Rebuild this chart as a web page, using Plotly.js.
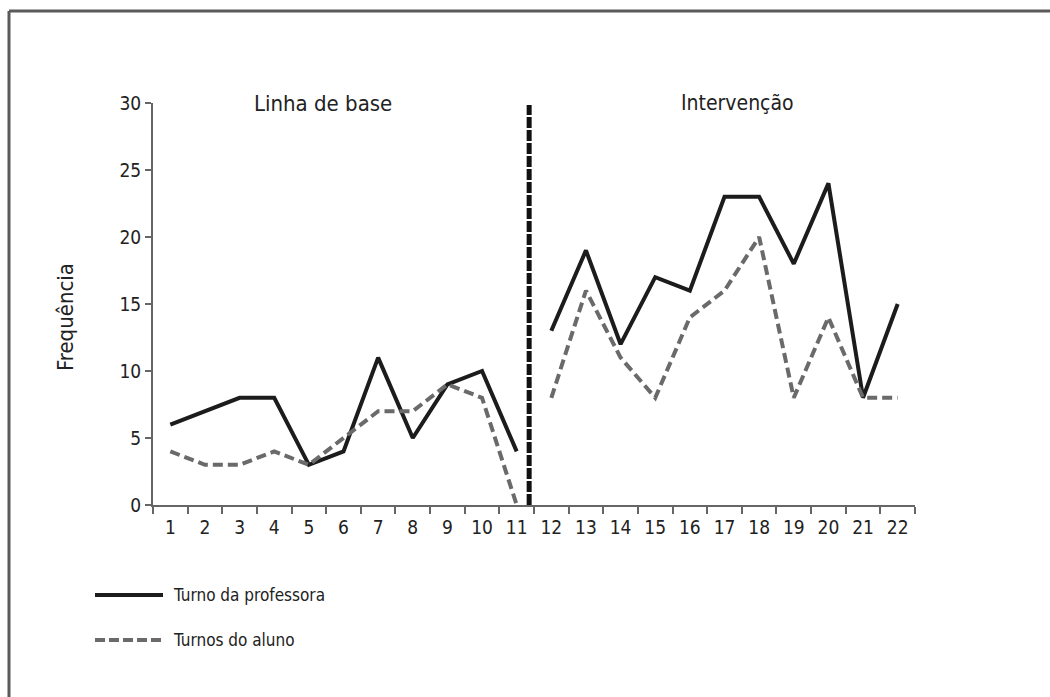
<!DOCTYPE html>
<html>
<head>
<meta charset="utf-8">
<script src="https://cdn.plot.ly/plotly-3.0.1.min.js"></script>
<style>
  html, body { margin: 0; padding: 0; background: #ffffff; }
  #chart { width: 1050px; height: 697px; }
</style>
</head>
<body>
<div id="chart"></div>
<script>
// ---- data ----
const sessions = ["1","2","3","4","5","6","7","8","9","10","11",
                  "12","13","14","15","16","17","18","19","20","21","22"];
const baselineSessions = sessions.slice(0, 11);
const interventionSessions = sessions.slice(11);

const teacherBaseline = [6, 7, 8, 8, 3, 4, 11, 5, 9, 10, 4];
const teacherIntervention = [13, 19, 12, 17, 16, 23, 23, 18, 24, 8, 15];
const studentBaseline = [4, 3, 3, 4, 3, 5, 7, 7, 9, 8, 0];
const studentIntervention = [8, 16, 11, 8, 14, 16, 20, 8, 14, 8, 8];

const yTicks = [0, 5, 10, 15, 20, 25, 30];
const seriesNames = ["Turno da professora", "Turnos do aluno"];
const phaseLabels = ["Linha de base", "Intervenção"];
const yTitle = "Frequência";
const phaseChange = 10.36;   // between session 11 and 12 (category index)

const FONT = '"Liberation Sans Narrow", "Arial Narrow", "DejaVu Sans Condensed", "Liberation Sans", Arial, sans-serif';
const teacherStyle = {color: '#1c1c1c', width: 4};
const studentStyle = {color: '#6a6a6a', width: 4, dash: '10px,5px'};

const traces = [
  {x: baselineSessions, y: teacherBaseline, type: 'scatter', mode: 'lines',
   name: seriesNames[0], line: teacherStyle, showlegend: false, hoverinfo: 'x+y'},
  {x: interventionSessions, y: teacherIntervention, type: 'scatter', mode: 'lines',
   name: seriesNames[0], line: teacherStyle, showlegend: false, hoverinfo: 'x+y'},
  {x: baselineSessions, y: studentBaseline, type: 'scatter', mode: 'lines',
   name: seriesNames[1], line: studentStyle, showlegend: false, hoverinfo: 'x+y'},
  {x: interventionSessions, y: studentIntervention, type: 'scatter', mode: 'lines',
   name: seriesNames[1], line: studentStyle, showlegend: false, hoverinfo: 'x+y'}
];

// plot area: x 153..915, y 103..505 (pixels)
const L = 153, R = 915, T = 103, B = 505;
const W = R - L, H = B - T;
const px = v => (v - L) / W;
const py = v => (B - v) / H;
const frameColor = '#5a5a5a';

const layout = {
  width: 1050, height: 697,
  margin: {l: L, r: 1050 - R, t: T, b: 697 - B, pad: 0},
  paper_bgcolor: '#ffffff', plot_bgcolor: '#ffffff',
  font: {family: FONT, size: 19, color: '#222222'},
  showlegend: false,
  xaxis: {
    type: 'category', categoryorder: 'array', categoryarray: sessions,
    range: [-0.5, sessions.length - 0.5], fixedrange: true,
    tickson: 'boundaries', ticks: 'outside', ticklen: 7, tickwidth: 2, tickcolor: '#666666',
    showline: true, linecolor: '#666666', linewidth: 2,
    showgrid: false, zeroline: false, ticklabelstandoff: 4,
    tickfont: {family: FONT, size: 19, color: '#222222'}
  },
  yaxis: {
    range: [0, 30], fixedrange: true,
    tickmode: 'array', tickvals: yTicks, ticktext: yTicks.map(String),
    ticks: 'outside', ticklen: 6, tickwidth: 2, tickcolor: '#666666',
    showline: true, linecolor: '#666666', linewidth: 2,
    showgrid: false, zeroline: false,
    tickfont: {family: FONT, size: 19, color: '#222222'}
  },
  shapes: [
    // phase change line
    {type: 'line', xref: 'x', yref: 'y', x0: phaseChange, x1: phaseChange, y0: 0, y1: 29.85,
     line: {color: '#111111', width: 5, dash: '11px,2px'}},
    // outer frame (top and left)
    {type: 'line', xref: 'paper', yref: 'paper', x0: px(9), x1: px(1052), y0: py(11), y1: py(11),
     line: {color: frameColor, width: 3}},
    {type: 'line', xref: 'paper', yref: 'paper', x0: px(9), x1: px(9), y0: py(11), y1: py(699),
     line: {color: frameColor, width: 3}},
    // legend lines
    {type: 'line', xref: 'paper', yref: 'paper', x0: px(95), x1: px(163), y0: py(595), y1: py(595),
     line: {color: teacherStyle.color, width: 4}},
    {type: 'line', xref: 'paper', yref: 'paper', x0: px(95), x1: px(163), y0: py(640), y1: py(640),
     line: {color: studentStyle.color, width: 4, dash: '10px,4px'}}
  ],
  annotations: [
    {text: yTitle, xref: 'paper', yref: 'paper', x: px(65), y: py(317), textangle: -90,
     xanchor: 'center', yanchor: 'middle', showarrow: false,
     font: {family: FONT, size: 22, color: '#222222'}},
    {text: phaseLabels[0], xref: 'paper', yref: 'paper', x: px(323), y: py(103),
     xanchor: 'center', yanchor: 'middle', showarrow: false,
     font: {family: FONT, size: 22, color: '#222222'}},
    {text: phaseLabels[1], xref: 'paper', yref: 'paper', x: px(737), y: py(103),
     xanchor: 'center', yanchor: 'middle', showarrow: false,
     font: {family: FONT, size: 21, color: '#222222'}},
    {text: seriesNames[0], xref: 'paper', yref: 'paper', x: px(171), y: py(595),
     xanchor: 'left', yanchor: 'middle', showarrow: false,
     font: {family: FONT, size: 17, color: '#222222'}},
    {text: seriesNames[1], xref: 'paper', yref: 'paper', x: px(171), y: py(640),
     xanchor: 'left', yanchor: 'middle', showarrow: false,
     font: {family: FONT, size: 17, color: '#222222'}}
  ]
};

Plotly.newPlot('chart', traces, layout, {displayModeBar: false, staticPlot: true});
</script>
</body>
</html>
